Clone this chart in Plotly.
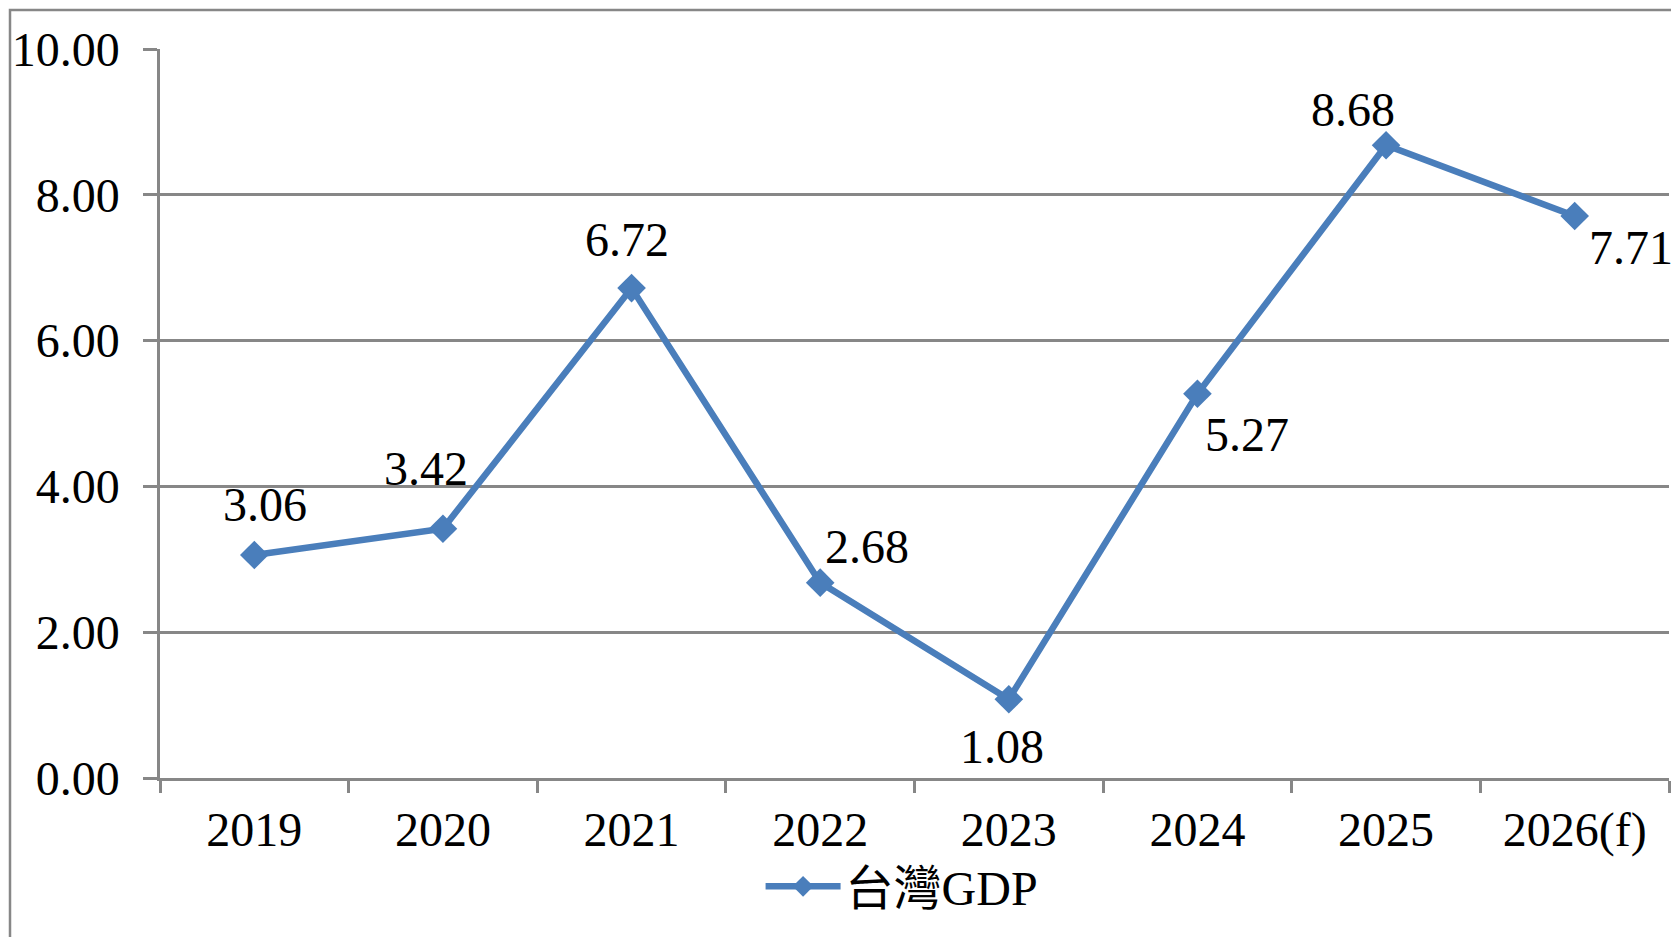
import plotly.graph_objects as go

years = ["2019", "2020", "2021", "2022", "2023", "2024", "2025", "2026(f)"]
gdp = [3.06, 3.42, 6.72, 2.68, 1.08, 5.27, 8.68, 7.71]
series_name = "台灣GDP"
y_ticks = [0, 2, 4, 6, 8, 10]

# label offsets (px) for data labels
label_dx = [11, -17, -5, 47, -7, 50, -33, 56]
label_dy = [-50, -60, -49, -36, 47, 41, -36, 32]

FONT = "Liberation Serif, Times New Roman, Noto Sans CJK TC, serif"
BLUE = "#4A7EBB"
GRID = "#878787"
FS = 48

fig = go.Figure()
fig.add_trace(go.Scatter(
    x=years, y=gdp, mode="lines+markers", name=series_name,
    line=dict(color=BLUE, width=6.5),
    marker=dict(symbol="diamond", size=22, color=BLUE),
))

for i, (yv, dx, dy) in enumerate(zip(gdp, label_dx, label_dy)):
    fig.add_annotation(x=i, y=yv, text=f"{yv:.2f}", showarrow=False,
                       xref="x", yref="y",
                       xshift=dx, yshift=-dy,
                       font=dict(family=FONT, size=FS, color="black"))

fig.add_shape(type="rect", xref="paper", yref="paper",
              x0=-150/1509, x1=1.2, y0=-0.5, y1=1 + 39/729,
              line=dict(color=GRID, width=2.5), fillcolor="rgba(0,0,0,0)", layer="below")

fig.update_layout(
    width=1671, height=929,
    margin=dict(l=152, r=10, t=41, b=159, autoexpand=False),
    paper_bgcolor="white", plot_bgcolor="white",
    font=dict(family=FONT, size=FS, color="black"),
    showlegend=True,
    legend=dict(orientation="h", x=0.398, xanchor="left", y=-0.149, yanchor="middle",
                font=dict(family=FONT, size=FS, color="black"), itemwidth=75,
                bgcolor="rgba(0,0,0,0)"),
    xaxis=dict(
        type="category", range=[-0.5, 7.5], tickson="boundaries",
        ticks="outside", ticklen=12, tickwidth=2.5, tickcolor=GRID,
        showline=True, linecolor=GRID, linewidth=2.5,
        showgrid=False, ticklabelstandoff=8,
        tickfont=dict(family=FONT, size=FS, color="black"),
    ),
    yaxis=dict(
        range=[0, 10], tickvals=y_ticks, tickformat=".2f",
        ticks="outside", ticklen=14, tickwidth=2.5, tickcolor=GRID,
        showline=True, linecolor=GRID, linewidth=2.5,
        showgrid=True, gridcolor=GRID, gridwidth=2.5,
        zeroline=False, ticklabelstandoff=14,
        tickfont=dict(family=FONT, size=FS, color="black"),
    ),
)

fig.write_html("out.html")
